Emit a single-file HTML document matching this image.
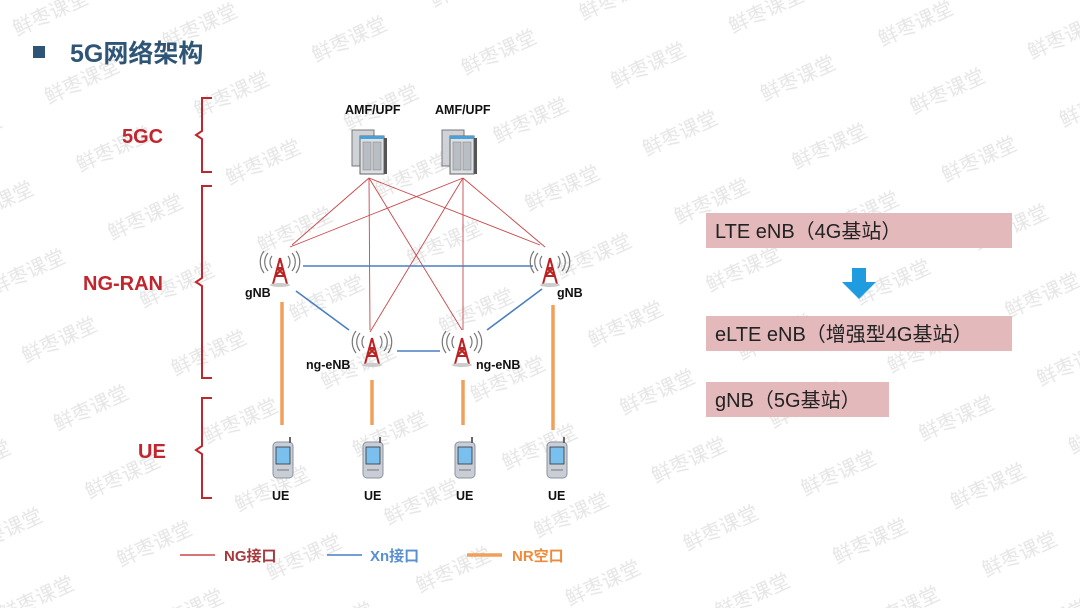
<!DOCTYPE html>
<html><head><meta charset="utf-8"><style>
html,body{margin:0;padding:0;background:#fff;}
body{width:1080px;height:608px;overflow:hidden;position:relative;font-family:"Liberation Sans","Noto Sans CJK SC",sans-serif;}
svg{position:absolute;left:0;top:0;}
</style></head><body>
<svg width="1080" height="608" viewBox="0 0 1080 608" xmlns="http://www.w3.org/2000/svg" font-family="Liberation Sans, Noto Sans CJK SC, sans-serif">
<defs>
<pattern id="wm" width="130" height="75" patternUnits="userSpaceOnUse" patternTransform="rotate(-25)">
<text x="0" y="40" font-size="20" fill="#e6e6e6" font-family="Noto Sans CJK SC, sans-serif">鲜枣课堂</text>
</pattern>
<g id="tower">
<path d="M-8,-6 a10,10 0 0 0 0,12 M-12,-9 a14,14 0 0 0 0,18 M-16,-11 a18,18 0 0 0 0,22 M8,-6 a10,10 0 0 1 0,12 M12,-9 a14,14 0 0 1 0,18 M16,-11 a18,18 0 0 1 0,22" fill="none" stroke="#777" stroke-width="1.2"/>
<path d="M0,-4 L-7,22 M0,-4 L7,22 M-5,14 L5,14 M-3,6 L3,6 M-5,14 L3,6 M5,14 L-3,6" stroke="#b22" stroke-width="2" fill="none"/>
<ellipse cx="0" cy="23" rx="10" ry="2" fill="#ccc"/>
</g>
<g id="phone">
<rect x="-10" y="-16" width="20" height="36" rx="4" fill="#c9ced6" stroke="#8a93a0"/>
<rect x="-7" y="-11" width="14" height="17" fill="#79c0ef" stroke="#333" stroke-width="0.8"/>
<rect x="6" y="-21" width="2" height="6" fill="#666"/>
<path d="M-6,12 L6,12" stroke="#777"/>
</g>
<g id="server">
<rect x="-16" y="-20" width="22" height="36" fill="#cfd3d8" stroke="#777"/>
<rect x="-8" y="-14" width="24" height="38" fill="#dde0e4" stroke="#666"/>
<rect x="-8" y="-14" width="24" height="3" fill="#4aa0d8"/>
<rect x="-5" y="-8" width="8" height="28" fill="#b9bec4" stroke="#888" stroke-width="0.6"/>
<rect x="5" y="-8" width="8" height="28" fill="#b9bec4" stroke="#888" stroke-width="0.6"/>
<rect x="16" y="-12" width="3" height="36" fill="#555"/>
</g>
</defs>
<rect width="1080" height="608" fill="url(#wm)"/>

<rect x="33" y="46" width="12" height="12" fill="#2e5476"/>
<text x="70" y="62" font-size="25" font-weight="bold" fill="#2e5476">5G网络架构</text>

<!-- braces -->
<g fill="none" stroke="#c0262d" stroke-width="2">
<path d="M212,98 h-10 v33 l-6,4 l6,4 v33 h10"/>
<path d="M212,186 h-10 v92 l-6,4 l6,4 v92 h10"/>
<path d="M212,398 h-10 v48 l-6,4 l6,4 v44 h10"/>
</g>
<g font-weight="bold" fill="#c0262d" font-size="20">
<text x="122" y="143">5GC</text>
<text x="83" y="290">NG-RAN</text>
<text x="138" y="458">UE</text>
</g>

<!-- red NG lines -->
<g stroke="#c9474b" stroke-width="0.9">
<line x1="369" y1="178" x2="292" y2="245"/>
<line x1="369" y1="178" x2="370" y2="330"/>
<line x1="369" y1="178" x2="462" y2="330"/>
<line x1="369" y1="178" x2="540" y2="245"/>
<line x1="463" y1="178" x2="290" y2="247"/>
<line x1="463" y1="178" x2="370" y2="332"/>
<line x1="463" y1="178" x2="463" y2="330"/>
<line x1="463" y1="178" x2="545" y2="247"/>
</g>
<!-- blue Xn -->
<g stroke="#4a7fc0" stroke-width="1.6">
<line x1="303" y1="266" x2="533" y2="266"/>
<line x1="296" y1="291" x2="349" y2="330"/>
<line x1="542" y1="289" x2="487" y2="330"/>
<line x1="397" y1="351" x2="440" y2="351"/>
</g>
<!-- orange NR -->
<g stroke="#f0a05a" stroke-width="3.5">
<line x1="282" y1="302" x2="282" y2="425"/>
<line x1="553" y1="305" x2="553" y2="430"/>
<line x1="372" y1="380" x2="372" y2="425"/>
<line x1="463" y1="380" x2="463" y2="425"/>
</g>

<use href="#server" x="368" y="150"/>
<use href="#server" x="458" y="150"/>
<g font-weight="bold" font-size="12.5" fill="#111">
<text x="345" y="114">AMF/UPF</text>
<text x="435" y="114">AMF/UPF</text>
</g>

<use href="#tower" x="280" y="262"/>
<use href="#tower" x="550" y="262"/>
<use href="#tower" x="372" y="342"/>
<use href="#tower" x="462" y="342"/>
<g font-weight="bold" font-size="12.5" fill="#111">
<text x="245" y="297">gNB</text>
<text x="557" y="297">gNB</text>
<text x="306" y="369">ng-eNB</text>
<text x="476" y="369">ng-eNB</text>
</g>

<use href="#phone" x="283" y="458"/>
<use href="#phone" x="373" y="458"/>
<use href="#phone" x="465" y="458"/>
<use href="#phone" x="557" y="458"/>
<g font-weight="bold" font-size="12.5" fill="#111">
<text x="272" y="500">UE</text>
<text x="364" y="500">UE</text>
<text x="456" y="500">UE</text>
<text x="548" y="500">UE</text>
</g>

<!-- legend -->
<line x1="180" y1="555" x2="215" y2="555" stroke="#c9474b" stroke-width="1.5"/>
<text x="224" y="561" font-size="15" font-weight="bold" fill="#a8383c">NG接口</text>
<line x1="327" y1="555" x2="362" y2="555" stroke="#4a7fc0" stroke-width="1.5"/>
<text x="370" y="561" font-size="15" font-weight="bold" fill="#5a8fd0">Xn接口</text>
<line x1="467" y1="555" x2="502" y2="555" stroke="#f0a05a" stroke-width="3.5"/>
<text x="512" y="561" font-size="15" font-weight="bold" fill="#ee8a3a">NR空口</text>

<!-- right boxes -->
<rect x="706" y="213" width="306" height="35" fill="#e3b9bb"/>
<text x="715" y="238" font-size="20" fill="#222">LTE eNB（4G基站）</text>
<path d="M852,268 h14 v14 h10 l-17,17 l-17,-17 h10 z" fill="#1f9be0"/>
<rect x="706" y="316" width="306" height="35" fill="#e3b9bb"/>
<text x="715" y="341" font-size="20" fill="#222">eLTE eNB（增强型4G基站）</text>
<rect x="706" y="382" width="183" height="35" fill="#e3b9bb"/>
<text x="715" y="407" font-size="20" fill="#222">gNB（5G基站）</text>
</svg>
</body></html>
